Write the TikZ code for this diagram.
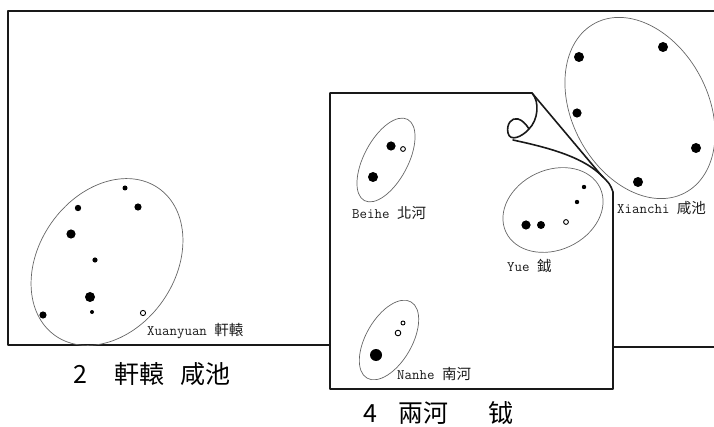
\documentclass[tikz,border=0pt]{standalone}
\usepackage{fontspec}
\newfontfamily\cjklabel{Noto Sans CJK TC}
\newfontfamily\cjkhand{Noto Sans CJK SC}

\begin{document}
\begin{tikzpicture}[
  x=1pt, y=-1pt,
  edge/.style={draw=black!90, line width=1.6pt, line join=round, line cap=round},
  group/.style={draw=black!60, line width=0.7pt},
  star/.style={fill=black},
  faint/.style={draw=black, line width=0.9pt, fill=white},
  starname/.style={font=\fontsize{14.5}{15}\ttfamily, text=black!90, inner sep=0pt, anchor=west},
  caption/.style={font=\fontsize{25}{25}\cjkhand, text=black, inner sep=0pt, anchor=west}
]
  \useasboundingbox (0,0) rectangle (714,427);

  % outer sheet (map 2)
  \draw[edge] (330,345) -- (8,345) -- (8,11) -- (714,11);
  \draw[edge] (613,347) -- (714,347);

  % inner sheet (map 4) with the peeled corner
  \draw[edge] (532,93) -- (330,93) -- (330,389) -- (613,389) -- (613,192)
              .. controls (610,184) .. (601,175) -- cycle;
  \draw[edge] (532,93) .. controls (540,102) and (538,120) .. (529,129)
              .. controls (522,137) and (510,142) .. (508,133)
              .. controls (506,124) and (512,117) .. (518,119)
              .. controls (522,120) and (526,124) .. (529,129);
  \draw[edge] (513,140) .. controls (545,147) and (583,156) .. (603,177);

  % star groups
  \draw[group] (107,262) circle[x radius=90pt, y radius=68pt, rotate=55];
  \draw[group] (386,160) circle[x radius=46pt, y radius=22pt, rotate=62];
  \draw[group] (389,340) circle[x radius=44pt, y radius=23pt, rotate=60];
  \draw[group] (553,210) circle[x radius=52pt, y radius=40pt, rotate=25];
  \draw[group] (640,108) circle[x radius=96pt, y radius=68pt, rotate=-62];

  % stars: x/y/radius
  \foreach \x/\y/\r in {125/188/2.5, 138/207/3.6, 78/208/3.2, 71/234/4.6, 95/260/2.6,
                        90/297/5, 92/312/2, 43/315/3.6,
                        391/146/4.6, 373/177/5,
                        376/355/6,
                        526/225/4.6, 541/225/4, 577/202/2.2, 584/187/2.2,
                        663/47/5, 579/57/5, 577/113/4.6, 696/148/5, 638/182/5}
    \fill[star] (\x,\y) circle[radius=\r pt];
  \foreach \x/\y/\r in {143/313/2.6, 403/149/2.4, 403/323/2, 398/333/2.8, 566/222/2.4}
    \draw[faint] (\x,\y) circle[radius=\r pt];

  % names
  \node[starname] (xuanyuan) at (147,331) {Xuanyuan {\cjklabel 軒轅}};
  \node[starname] (beihe)    at (352,213) {Beihe {\cjklabel 北河}};
  \node[starname] (yue)      at (507,266) {Yue {\cjklabel 鉞}};
  \node[starname] (xianchi)  at (617,208) {Xianchi {\cjklabel 咸池}};
  \node[starname] (nanhe)    at (397,374) {Nanhe {\cjklabel 南河}};

  % sheet captions
  \node[caption] (cap2) at (73,374) {2\hspace{27pt}軒轅\hspace{16pt}咸池};
  \node[caption] (cap4) at (363,413) {4\hspace{21pt}兩河\hspace{40pt}钺};

\end{tikzpicture}
\end{document}
